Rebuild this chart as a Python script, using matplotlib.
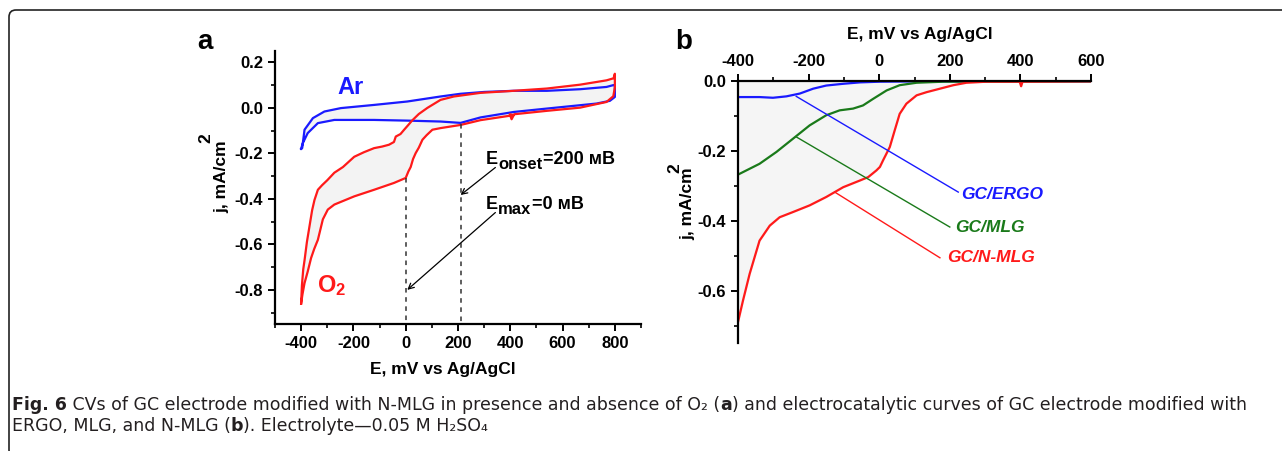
import numpy as np
import matplotlib
matplotlib.use("Agg")
import matplotlib.pyplot as plt
from matplotlib.patches import FancyBboxPatch
from matplotlib.ticker import MultipleLocator, FormatStrFormatter
from matplotlib.transforms import offset_copy

plt.rcParams['font.family'] = ['Liberation Sans', 'DejaVu Sans']
plt.rcParams['axes.unicode_minus'] = False
plt.rcParams['mathtext.fontset'] = 'custom'
plt.rcParams['mathtext.rm'] = 'Liberation Sans:bold'
plt.rcParams['mathtext.bf'] = 'Liberation Sans:bold'
plt.rcParams['mathtext.default'] = 'bf'

# --- panel a: CV loops (E in mV, j in mA/cm2) ---
ar_e = [-400, -396, -387, -355, -311, -248, -121, 6, 133, 210, 300, 413, 540, 667, 768, 794, 800,
        800, 781, 730, 540, 413, 286, 210, 133, 6, -121, -273, -336, -375, -394, -400]
ar_j = [-0.18, -0.177, -0.096, -0.045, -0.016, -0.001, 0.013, 0.028, 0.05, 0.062, 0.07, 0.075, 0.075, 0.082, 0.092, 0.10, 0.10,
        0.048, 0.031, 0.019, -0.003, -0.018, -0.042, -0.066, -0.06, -0.056, -0.053, -0.053, -0.067, -0.111, -0.156, -0.18]

o2_e = [-400, -397, -392, -387, -378, -368, -358, -349, -336, -320, -300, -273, -240, -197, -160, -121, -90, -64,
        -45, -38, -20, -6, 10, 25, 50, 83, 133, 184, 286, 413, 540, 667, 768, 795, 800,
        800, 794, 768, 667, 540, 415, 405, 398, 413, 286, 210, 133, 102, 80, 64, 50, 38, 28, 19, 10, 0,
        -45, -121, -197, -273, -298, -317, -336, -350, -362, -375, -387, -395, -400]
o2_j = [-0.86, -0.78, -0.71, -0.67, -0.59, -0.52, -0.45, -0.405, -0.36, -0.34, -0.318, -0.285, -0.26, -0.215, -0.195, -0.177, -0.17, -0.162,
        -0.15, -0.126, -0.115, -0.096, -0.075, -0.055, -0.027, 0.0, 0.035, 0.05, 0.066, 0.075, 0.085, 0.102, 0.121, 0.13, 0.15,
        0.09, 0.051, 0.026, 0.001, -0.013, -0.028, -0.05, -0.028, -0.032, -0.054, -0.075, -0.089, -0.096, -0.12, -0.14, -0.175, -0.199, -0.225, -0.26, -0.28, -0.308,
        -0.33, -0.36, -0.389, -0.425, -0.447, -0.49, -0.58, -0.62, -0.66, -0.72, -0.77, -0.82, -0.86]

# --- panel b: electrocatalytic curves ---
ergo_e = [-400, -339, -301, -263, -225, -187, -150, -102, -55, 2, 134, 600]
ergo_j = [-0.046, -0.046, -0.048, -0.044, -0.036, -0.022, -0.013, -0.008, -0.004, -0.002, -0.001, -0.001]

mlg_e = [-400, -339, -291, -244, -197, -150, -112, -74, -46, -17, 21, 58, 106, 181, 600]
mlg_j = [-0.268, -0.237, -0.203, -0.165, -0.127, -0.098, -0.084, -0.079, -0.07, -0.051, -0.027, -0.012, -0.005, -0.002, -0.001]

nmlg_e = [-400, -386, -367, -339, -310, -282, -244, -197, -150, -102, -55, -31, -8, 2, 11, 30, 44, 58, 77, 106, 134,
          172, 210, 247, 304, 398, 402, 406, 600]
nmlg_j = [-0.69, -0.629, -0.552, -0.457, -0.414, -0.39, -0.375, -0.356, -0.332, -0.304, -0.285, -0.275, -0.256, -0.246,
          -0.227, -0.189, -0.141, -0.094, -0.065, -0.041, -0.032, -0.022, -0.012, -0.005, -0.002, -0.002, -0.015, -0.002, -0.001]

fig = plt.figure(figsize=(12.82, 4.51), dpi=100)
renderer = fig.canvas.get_renderer()

W, H = 1282.0, 451.0
def box(l, t, r, b):
    return [l / W, 1 - b / H, (r - l) / W, (b - t) / H]

def text_w(holder, s, **kw):
    # advance width in points, trailing spaces included
    t = holder.text(0, 0, s + '|', **kw)
    t0 = holder.text(0, 0, '|', **kw)
    w = t.get_window_extent(renderer).width - t0.get_window_extent(renderer).width
    t.remove()
    t0.remove()
    return w * 72.0 / fig.dpi

def rich(holder, x, y, pieces, transform, **common):
    off = 0.0
    for s, kw in pieces:
        props = dict(common)
        props.update(kw)
        dy = props.pop('dy', 0)
        tr = offset_copy(transform, fig=fig, x=off, y=dy, units='points')
        holder.text(x, y, s, transform=tr, va='baseline', **props)
        off += text_w(holder, s, **props)

def style_axes(ax, spines_on, spines_off):
    for s in spines_off:
        ax.spines[s].set_visible(False)
    for s in spines_on:
        ax.spines[s].set_linewidth(1.6)
    ax.tick_params(which='major', direction='out', length=5, width=1.4, labelsize=12)
    ax.tick_params(which='minor', direction='out', length=3, width=1.2)
    for lab in ax.get_xticklabels() + ax.get_yticklabels():
        lab.set_fontweight('bold')

def ylabel(ax, xy_main, xy_sup):
    ax.text(xy_main[0], xy_main[1], 'j, mA/cm', rotation=90, transform=ax.transAxes,
            ha='center', va='center', fontsize=12.5, fontweight='bold')
    ax.text(xy_sup[0], xy_sup[1], '2', rotation=90, transform=ax.transAxes,
            ha='center', va='center', fontsize=12.5, fontweight='bold')

# ---------- panel a ----------
ax1 = fig.add_axes(box(275, 51, 641, 324))
ax1.fill(ar_e, ar_j, color='#f3f3f3', zorder=0)
ax1.fill(o2_e, o2_j, color='#f3f3f3', zorder=0)
ax1.plot(ar_e, ar_j, color='#1a1aff', lw=1.6)
ax1.plot(o2_e, o2_j, color='#ff1a1a', lw=1.6)
ax1.plot([0, 0], [-0.31, -0.95], ls=(0, (3, 3)), color='#333333', lw=1.1)
ax1.plot([210, 210], [-0.07, -0.95], ls=(0, (3, 3)), color='#333333', lw=1.1)
ax1.set_xlim(-500, 900)
ax1.set_ylim(-0.95, 0.25)
ax1.set_xticks([-400, -200, 0, 200, 400, 600, 800])
ax1.xaxis.set_minor_locator(MultipleLocator(100))
ax1.set_yticks([-0.8, -0.6, -0.4, -0.2, 0.0, 0.2])
ax1.yaxis.set_minor_locator(MultipleLocator(0.1))
ax1.yaxis.set_major_formatter(FormatStrFormatter('%.1f'))
style_axes(ax1, ['left', 'bottom'], ['top', 'right'])
ax1.set_xlabel('E, mV vs Ag/AgCl', fontsize=12.5, fontweight='bold')
ax1.xaxis.set_label_coords(0.459, -0.168)
ax1.xaxis.label.set_va('center')
ylabel(ax1, (-0.145, 0.538), (-0.189, 0.68))

ax1.text(-262, 0.09, 'Ar', color='#1a1aff', fontsize=17, fontweight='bold', va='center')
ax1.text(-340, -0.78, 'O$_2$', color='#ff1a1a', fontsize=17, fontweight='bold', va='center')
rich(ax1, 308, -0.246, [('E', {}), ('onset', dict(fontsize=12, dy=-3.6)), ('=200 мВ', {})],
     ax1.transData, fontsize=13, fontweight='bold')
rich(ax1, 308, -0.444, [('E', {}), ('max', dict(fontsize=12, dy=-3.6)), ('=0 мВ', {})],
     ax1.transData, fontsize=13, fontweight='bold')
ax1.annotate('', xy=(210, -0.383), xytext=(343, -0.262),
             arrowprops=dict(arrowstyle='->', color='black', lw=0.9, shrinkA=0, shrinkB=0))
ax1.annotate('', xy=(6, -0.80), xytext=(343, -0.46),
             arrowprops=dict(arrowstyle='->', color='black', lw=0.9, shrinkA=0, shrinkB=0))

# ---------- panel b ----------
ax2 = fig.add_axes(box(738, 81, 1091, 343))
ax2.fill_between(nmlg_e, nmlg_j, 0, color='#f5f5f5', zorder=0)
ax2.plot(ergo_e, ergo_j, color='#1a1aff', lw=1.6)
ax2.plot(mlg_e, mlg_j, color='#1a7a1a', lw=1.6)
ax2.plot(nmlg_e, nmlg_j, color='#ff1a1a', lw=1.6)
ax2.set_xlim(-400, 600)
ax2.set_ylim(-0.75, 0.0)
ax2.set_xticks([-400, -200, 0, 200, 400, 600])
ax2.xaxis.set_minor_locator(MultipleLocator(100))
ax2.set_yticks([-0.6, -0.4, -0.2, 0.0])
ax2.yaxis.set_minor_locator(MultipleLocator(0.1))
ax2.yaxis.set_major_formatter(FormatStrFormatter('%.1f'))
ax2.xaxis.tick_top()
ax2.xaxis.set_label_position('top')
style_axes(ax2, ['left', 'top'], ['bottom', 'right'])
ax2.set_xlabel('E, mV vs Ag/AgCl', fontsize=12.5, fontweight='bold')
ax2.xaxis.set_label_coords(0.516, 1.176)
ax2.xaxis.label.set_va('center')
ylabel(ax2, (-0.142, 0.531), (-0.178, 0.668))

lbl_kw = dict(fontsize=12.5, fontweight='bold', style='italic', va='center')
ax2.plot([-235, 224], [-0.044, -0.318], color='#1a1aff', lw=1.0)
ax2.plot([-235, 200], [-0.16, -0.418], color='#1a7a1a', lw=1.0)
ax2.plot([-126, 172], [-0.318, -0.506], color='#ff1a1a', lw=1.0)
ax2.text(233, -0.325, 'GC/ERGO', color='#1a1aff', **lbl_kw)
ax2.text(214, -0.418, 'GC/MLG', color='#1a7a1a', **lbl_kw)
ax2.text(193, -0.506, 'GC/N-MLG', color='#ff1a1a', **lbl_kw)

# panel letters
fig.text(205 / W, 1 - 42 / H, 'a', fontsize=20, fontweight='bold', ha='center', va='center')
fig.text(684 / W, 1 - 42 / H, 'b', fontsize=20, fontweight='bold', ha='center', va='center')

# rounded frame (only top and left edges visible)
frame = FancyBboxPatch((0.09, -0.06), 13.5, 4.47, boxstyle='round,pad=0,rounding_size=0.07',
                       transform=fig.dpi_scale_trans, fill=False, ec='#222222', lw=1.2)
fig.patches.append(frame)

# caption with mixed weights
cap = dict(family='DejaVu Sans', fontsize=12.5, color='#231f20')
rich(fig, 12 / W, 1 - 410 / H, [('Fig. 6', dict(fontweight='bold')),
                               (' CVs of GC electrode modified with N-MLG in presence and absence of O\u2082 (', {}),
                               ('a', dict(fontweight='bold')),
                               (') and electrocatalytic curves of GC electrode modified with', {})],
     fig.transFigure, **cap)
rich(fig, 12 / W, 1 - 431 / H, [('ERGO, MLG, and N-MLG (', {}), ('b', dict(fontweight='bold')),
                               ('). Electrolyte\u20140.05 M H\u2082SO\u2084', {})],
     fig.transFigure, **cap)

fig.savefig('out.png', dpi=100)
